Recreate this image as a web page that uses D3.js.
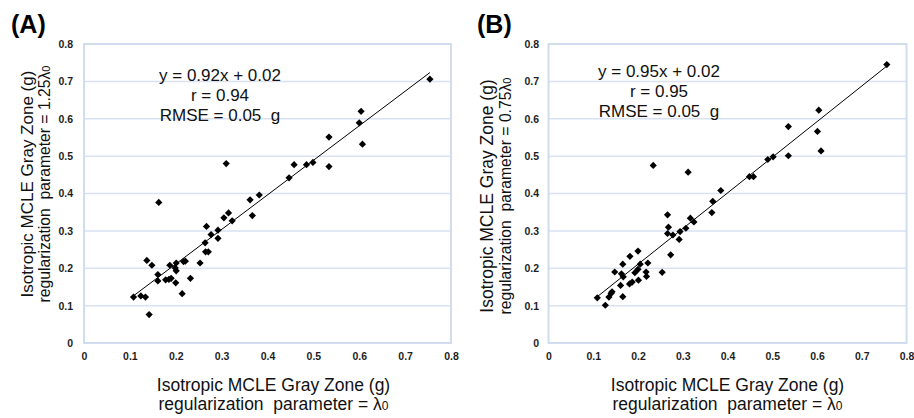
<!DOCTYPE html>
<html>
<head>
<meta charset="utf-8">
<script src="https://cdn.jsdelivr.net/npm/d3@7"></script>
<style>
  body { margin: 0; background: #fff; }
  svg { display: block; font-family: Arial, "Liberation Sans", sans-serif; }
  text { white-space: pre; }
</style>
</head>
<body>
<svg id="chart" width="914" height="418"></svg>
<script>
// values
const tickValues = [0, 0.1, 0.2, 0.3, 0.4, 0.5, 0.6, 0.7, 0.8]
const panelTags = ["(A)", "(B)"]
const xTitle = ["Isotropic MCLE Gray Zone (g)", "regularization  parameter = λ", "0"]
const yTitleA = ["Isotropic MCLE Gray Zone (g)", "regularization  parameter = 1.25λ", "0"]
const yTitleB = ["Isotropic MCLE Gray Zone (g)", "regularization  parameter = 0.75λ", "0"]
const statsA = ["y = 0.92x + 0.02", "r = 0.94", "RMSE = 0.05  g"]
const statsB = ["y = 0.95x + 0.02", "r = 0.95", "RMSE = 0.05  g"]

// panel A : lambda0 (x) vs 1.25 lambda0 (y)
const xA = [0.108, 0.124, 0.134, 0.142, 0.137, 0.148, 0.163, 0.161, 0.161, 0.178, 0.187, 0.185,
            0.190, 0.199, 0.201, 0.201, 0.200, 0.214, 0.217, 0.221, 0.232, 0.253, 0.265, 0.271,
            0.264, 0.267, 0.277, 0.292, 0.292, 0.305, 0.315, 0.310, 0.323, 0.362, 0.382, 0.367,
            0.447, 0.458, 0.485, 0.499, 0.534, 0.534, 0.600, 0.604, 0.607, 0.754]
const yA = [0.123, 0.126, 0.123, 0.076, 0.221, 0.208, 0.376, 0.183, 0.166, 0.169, 0.208, 0.170,
            0.173, 0.201, 0.193, 0.214, 0.161, 0.132, 0.218, 0.219, 0.173, 0.214, 0.244, 0.244,
            0.268, 0.312, 0.290, 0.302, 0.280, 0.335, 0.348, 0.480, 0.327, 0.383, 0.396, 0.341,
            0.442, 0.477, 0.477, 0.483, 0.551, 0.472, 0.589, 0.620, 0.532, 0.706]

// panel B : lambda0 (x) vs 0.75 lambda0 (y)
const xB = [0.109, 0.127, 0.135, 0.140, 0.142, 0.148, 0.161, 0.166, 0.166, 0.163, 0.167, 0.182,
            0.181, 0.187, 0.193, 0.200, 0.200, 0.201, 0.205, 0.218, 0.219, 0.222, 0.254, 0.234,
            0.266, 0.268, 0.266, 0.278, 0.273, 0.292, 0.294, 0.307, 0.312, 0.317, 0.325, 0.367,
            0.365, 0.385, 0.449, 0.458, 0.490, 0.502, 0.536, 0.536, 0.601, 0.604, 0.609, 0.756]
const yB = [0.121, 0.101, 0.123, 0.133, 0.137, 0.190, 0.154, 0.124, 0.211, 0.185, 0.177, 0.232,
            0.158, 0.163, 0.188, 0.246, 0.197, 0.168, 0.211, 0.190, 0.178, 0.214, 0.189, 0.475,
            0.343, 0.310, 0.293, 0.289, 0.236, 0.277, 0.298, 0.307, 0.457, 0.334, 0.324, 0.379,
            0.349, 0.408, 0.445, 0.445, 0.491, 0.498, 0.579, 0.501, 0.566, 0.623, 0.514, 0.745]

const svg = d3.select("#chart")

const panels = [
  { tag: panelTags[0], xs: xA, ys: yA, stats: statsA, yTitle: yTitleA,
    left: 84, right: 451, tagX: 11, labelPad: 11, xTitleShift: 6, yTitleSize: 17,
    yTitleX: [33, 50], yTitleY: 184, statsX: 220, statsY: [80.5, 100.5, 120.5] },
  { tag: panelTags[1], xs: xB, ys: yB, stats: statsB, yTitle: yTitleB,
    left: 548.5, right: 906.5, tagX: 477, labelPad: 9.5, xTitleShift: 0, yTitleSize: 17.5,
    yTitleX: [493, 511], yTitleY: 196, statsX: 659, statsY: [76.5, 96.5, 117] }
]
const plotTop = 44, plotBottom = 343

function linearFit(xs, ys){
    let mx = d3.mean(xs)
    let my = d3.mean(ys)
    let sxy = d3.sum(xs.map((v, i) => (v - mx) * (ys[i] - my)))
    let sxx = d3.sum(xs.map(v => (v - mx) * (v - mx)))
    let slope = sxy / sxx
    return { slope: slope, intercept: my - slope * mx }
}

function twoLine(sel, lines, x, ys, anchor){
    // lines[2] is the small zero after lambda
    sel.append("text").attr("x", x).attr("y", ys[0]).attr("text-anchor", anchor).text(lines[0])
    let t = sel.append("text").attr("x", x).attr("y", ys[1]).attr("text-anchor", anchor)
    t.append("tspan").text(lines[1])
    t.append("tspan").attr("font-size", "12px").text(lines[2])
}

panels.forEach(p => {
    let g = svg.append("g")

    let xScale = d3.scaleLinear().domain([0, 0.8]).range([p.left, p.right])
    let yScale = d3.scaleLinear().domain([0, 0.8]).range([plotBottom, plotTop])

    // gridlines
    g.append("g")
        .selectAll("line")
        .data(tickValues.slice(1, -1))
        .join("line")
        .attr("x1", p.left).attr("x2", p.right)
        .attr("y1", d => yScale(d)).attr("y2", d => yScale(d))
        .attr("stroke", "#d9e2f3")
        .attr("stroke-width", 1.5)

    // frame
    g.append("rect")
        .attr("x", p.left).attr("y", plotTop)
        .attr("width", p.right - p.left).attr("height", plotBottom - plotTop)
        .attr("fill", "none")
        .attr("stroke", "#d2dcef")
        .attr("stroke-width", 2)

    let fmt = d => d === 0 ? "0" : d3.format(".1f")(d)

    let yAxis = g.append("g")
        .attr("transform", `translate(${p.left},0)`)
        .call(d3.axisLeft(yScale).tickValues(tickValues).tickFormat(fmt).tickSize(0).tickPadding(p.labelPad))
    let xAxis = g.append("g")
        .attr("transform", `translate(0,${plotBottom})`)
        .call(d3.axisBottom(xScale).tickValues(tickValues).tickFormat(fmt).tickSize(0).tickPadding(10))
    ;[yAxis, xAxis].forEach(a => {
        a.select(".domain").remove()
        a.selectAll("text")
            .attr("font-family", "Arial, 'Liberation Sans', sans-serif")
            .attr("font-size", "10.5px")
            .attr("font-weight", "bold")
            .attr("fill", "#1e1e1e")
    })

    // trendline over the data range
    let fit = linearFit(p.xs, p.ys)
    let ext = d3.extent(p.xs)
    g.append("path")
        .attr("d", d3.line()(ext.map(v => [xScale(v), yScale(fit.slope * v + fit.intercept)])))
        .attr("stroke", "#000")
        .attr("stroke-width", 1)
        .attr("fill", "none")

    // diamonds
    g.append("g")
        .selectAll("path")
        .data(p.xs.map((v, i) => [v, p.ys[i]]))
        .join("path")
        .attr("d", d3.symbol(d3.symbolSquare, 26))
        .attr("transform", d => `translate(${xScale(d[0])},${yScale(d[1])}) rotate(45)`)
        .attr("fill", "#000")

    // stats text
    let st = g.append("g").attr("font-size", "17px").attr("fill", "#111")
    p.stats.forEach((s, i) => {
        st.append("text").attr("x", p.statsX).attr("y", p.statsY[i]).attr("text-anchor", "middle").text(s)
    })

    // panel tag
    g.append("text")
        .attr("x", p.tagX).attr("y", 33)
        .attr("font-size", "25px").attr("font-weight", "bold")
        .text(p.tag)

    // x title
    let xt = g.append("g").attr("font-size", "17.5px").attr("fill", "#111")
    twoLine(xt, xTitle, (p.left + p.right) / 2 + p.xTitleShift, [391, 410], "middle")

    // y title (rotated)
    let yt = g.append("g").attr("fill", "#111")
    yt.append("text")
        .attr("transform", `translate(${p.yTitleX[0]},${p.yTitleY}) rotate(-90)`)
        .attr("text-anchor", "middle")
        .attr("font-size", p.yTitleSize + "px")
        .text(p.yTitle[0])
    let t2 = yt.append("text")
        .attr("transform", `translate(${p.yTitleX[1]},${p.yTitleY}) rotate(-90)`)
        .attr("text-anchor", "middle")
        .attr("font-size", "15.7px")
    t2.append("tspan").text(p.yTitle[1])
    t2.append("tspan").attr("font-size", "11px").text(p.yTitle[2])
})
</script>
</body>
</html>
